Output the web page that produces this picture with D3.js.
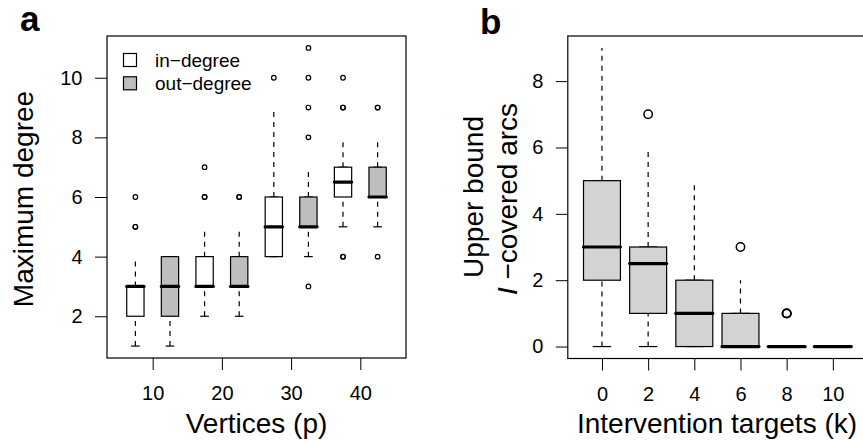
<!DOCTYPE html>
<html>
<head>
<meta charset="utf-8">
<script src="https://cdn.jsdelivr.net/npm/d3@7"></script>
<style>
  body { margin: 0; background: #fff; }
  svg { display: block; font-family: "Liberation Sans", Arial, sans-serif; }
</style>
</head>
<body>
<div id="fig"></div>
<script>
// ---- data ----
// five-number summaries: [lower whisker, q1, median, q3, upper whisker]
const vertices = [10, 20, 30, 40];
const degreeTypes = ["in\u2212degree", "out\u2212degree"];
const inDegreeStats = [[1, 2, 3, 3, 4], [2, 3, 3, 4, 5], [4, 4, 5, 6, 9], [5, 6, 6.5, 7, 8]];
const outDegreeStats = [[1, 2, 3, 4, 4], [2, 3, 3, 4, 5], [4, 5, 5, 6, 7], [5, 6, 6, 7, 8]];
// repeated values = overlapping points (they print bolder)
const inDegreeOutliers = [[5, 5, 6], [6, 6, 7], [10], [4, 4, 9, 9, 10]];
const outDegreeOutliers = [[], [6, 6], [3, 8, 9, 10, 11], [4, 9, 9]];
const degreeTicks = [2, 4, 6, 8, 10];

const targets = [0, 2, 4, 6, 8, 10];
const arcStats = [[0, 2, 3, 5, 9], [0, 1, 2.5, 3, 6], [0, 0, 1, 2, 5], [0, 0, 0, 1, 2], [0, 0, 0, 0, 0], [0, 0, 0, 0, 0]];
const arcOutliers = [[], [7], [], [3], [1, 1, 1], []];
const arcTicks = [0, 2, 4, 6, 8];

const W = 863, H = 443;
const tickFont = "20px", titleFont = "28px";

const svg = d3.select("#fig")
  .append("svg")
  .attr("width", W)
  .attr("height", H);

// R-like axis styling
function styleAxis(g) {
  g.attr("font-family", null).attr("font-size", null);
  g.select(".domain").remove();
  g.selectAll("line").attr("stroke", "#000");
  g.selectAll("text").attr("fill", "#000").style("font-size", tickFont);
}

// draw a set of R-style boxplots
function drawBoxes(g, stats, outliers, pos, x, y, half, fill, r, sw) {
  stats.forEach(function (s, i) {
    const cx = x(pos[i]);
    const x0 = x(pos[i] - half), x1 = x(pos[i] + half);
    const cap0 = x(pos[i] - half / 2), cap1 = x(pos[i] + half / 2);
    const box = g.append("g");

    // whiskers (dashed) and staples
    [[s[0], s[1]], [s[3], s[4]]].forEach(function (w) {
      box.append("line")
        .attr("x1", cx).attr("x2", cx)
        .attr("y1", y(w[0])).attr("y2", y(w[1]))
        .attr("stroke", "#000")
        .attr("stroke-width", 1.2)
        .attr("stroke-dasharray", "5,5");
      box.append("line")
        .attr("x1", cap0).attr("x2", cap1)
        .attr("y1", y(w[0])).attr("y2", y(w[0]))
        .attr("stroke", "#000")
        .attr("stroke-width", 1.2);
    });

    // box
    box.append("rect")
      .attr("x", x0)
      .attr("y", y(s[3]))
      .attr("width", x1 - x0)
      .attr("height", y(s[1]) - y(s[3]))
      .attr("fill", fill[i])
      .attr("stroke", "#000")
      .attr("stroke-width", 1.2);

    // median
    box.append("line")
      .attr("x1", x0).attr("x2", x1)
      .attr("y1", y(s[2])).attr("y2", y(s[2]))
      .attr("stroke", "#000")
      .attr("stroke-width", 3.2)
      .attr("stroke-linecap", "round");

    // outliers
    box.selectAll("circle")
      .data(outliers[i])
      .join("circle")
        .attr("cx", cx)
        .attr("cy", d => y(d))
        .attr("r", r)
        .attr("fill", "none")
        .attr("stroke", "#000")
        .attr("stroke-width", sw);
  });
}

// ================= panel a =================
const xa = d3.scaleLinear().domain([0.18, 8.82]).range([107, 406]);
const ya = d3.scaleLinear().domain([0.6, 11.4]).range([358, 36]);
const ga = svg.append("g");

ga.append("g")
  .attr("transform", "translate(0,358)")
  .call(d3.axisBottom(xa)
    .tickValues(vertices.map((v, i) => 1.5 + 2 * i))
    .tickFormat((d, i) => vertices[i])
    .tickSize(12).tickPadding(16))
  .call(styleAxis);

ga.append("g")
  .attr("transform", "translate(107,0)")
  .call(d3.axisLeft(ya).tickValues(degreeTicks).tickSize(12).tickPadding(12.5))
  .call(styleAxis);

// interleave in/out boxes: positions 1..8
const aStats = [], aOut = [], aPos = [], aFill = [];
vertices.forEach(function (v, i) {
  aStats.push(inDegreeStats[i], outDegreeStats[i]);
  aOut.push(inDegreeOutliers[i], outDegreeOutliers[i]);
  aPos.push(1 + 2 * i, 2 + 2 * i);
  aFill.push("#ffffff", "#bebebe");
});
drawBoxes(ga, aStats, aOut, aPos, xa, ya, 0.25, aFill, 2.3, 1.2);

ga.append("rect")
  .attr("x", 107).attr("y", 36)
  .attr("width", 406 - 107).attr("height", 358 - 36)
  .attr("fill", "none")
  .attr("stroke", "#000")
  .attr("stroke-width", 1.2);

// legend
const legend = ga.append("g");
degreeTypes.forEach(function (t, i) {
  const cy = 60 + i * 23.3;
  legend.append("rect")
    .attr("x", 123.5).attr("y", cy - 6.5)
    .attr("width", 13).attr("height", 13)
    .attr("fill", i === 0 ? "#ffffff" : "#bebebe")
    .attr("stroke", "#000")
    .attr("stroke-width", 1.2);
  legend.append("text")
    .attr("x", 155).attr("y", cy + 6.5)
    .style("font-size", "19px")
    .text(t);
});

ga.append("text")
  .attr("x", 256.5).attr("y", 433)
  .attr("text-anchor", "middle")
  .style("font-size", titleFont)
  .text("Vertices (p)");

ga.append("text")
  .attr("transform", "translate(33,199) rotate(-90)")
  .attr("text-anchor", "middle")
  .style("font-size", titleFont)
  .text("Maximum degree");

ga.append("text")
  .attr("x", 20).attr("y", 31)
  .style("font-size", "35px")
  .style("font-weight", "bold")
  .text("a");

// ================= panel b =================
const xb = d3.scaleLinear().domain([0.26, 6.74]).range([567.8, 867]);
const yb = d3.scaleLinear().domain([-0.36, 9.36]).range([358.5, 36]);
const gb = svg.append("g");

gb.append("g")
  .attr("transform", "translate(0,358.5)")
  .call(d3.axisBottom(xb)
    .tickValues(targets.map((t, i) => i + 1))
    .tickFormat((d, i) => targets[i])
    .tickSize(12).tickPadding(16))
  .call(styleAxis);

gb.append("g")
  .attr("transform", "translate(567.8,0)")
  .call(d3.axisLeft(yb).tickValues(arcTicks).tickSize(12).tickPadding(12.5))
  .call(styleAxis);

drawBoxes(gb, arcStats, arcOutliers, targets.map((t, i) => i + 1), xb, yb, 0.4,
  targets.map(() => "#d3d3d3"), 4.2, 1.5);

gb.append("rect")
  .attr("x", 567.8).attr("y", 36)
  .attr("width", 867 - 567.8).attr("height", 358.5 - 36)
  .attr("fill", "none")
  .attr("stroke", "#000")
  .attr("stroke-width", 1.2);

gb.append("text")
  .attr("x", 717).attr("y", 433)
  .attr("text-anchor", "middle")
  .style("font-size", titleFont)
  .text("Intervention targets (k)");

gb.append("text")
  .attr("transform", "translate(483,197) rotate(-90)")
  .attr("text-anchor", "middle")
  .style("font-size", titleFont)
  .text("Upper bound");

const yl2 = gb.append("text")
  .attr("transform", "translate(517,199) rotate(-90)")
  .attr("text-anchor", "middle")
  .style("font-size", titleFont);
yl2.append("tspan").style("font-style", "italic").text("I");
yl2.append("tspan").text(" \u2212covered arcs");

gb.append("text")
  .attr("x", 480).attr("y", 34)
  .style("font-size", "35px")
  .style("font-weight", "bold")
  .text("b");
</script>
</body>
</html>
